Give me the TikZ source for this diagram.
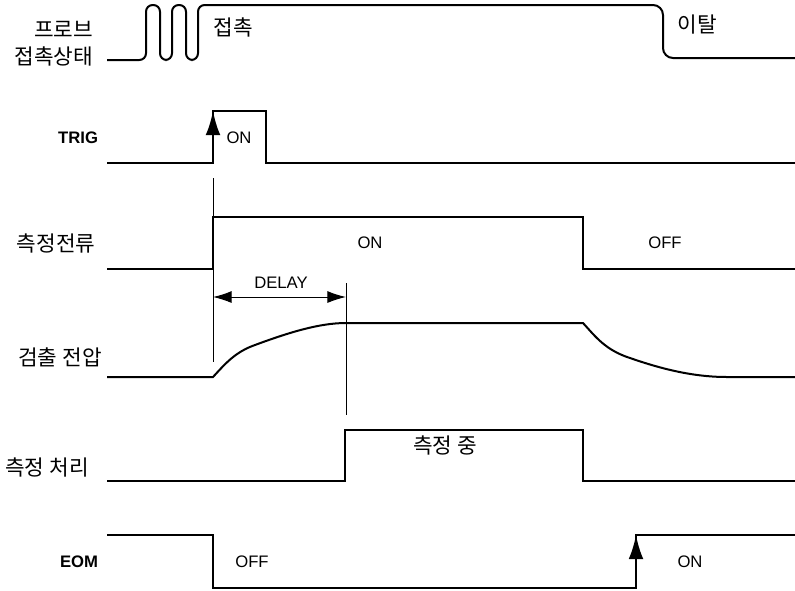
\documentclass[tikz,border=0pt]{standalone}
\usepackage{fontspec}
\setmainfont{Liberation Sans}
\newfontfamily\kr{Noto Sans CJK KR}
\usetikzlibrary{arrows.meta}
\definecolor{ink}{gray}{0.0}
\definecolor{thin}{gray}{0.55}

\begin{document}
\begin{tikzpicture}[x=0.75pt, y=-0.75pt, line width=1.5pt, font=\fontsize{12.5}{14}\selectfont,
    sig/.style={ink},
    guideline/.style={thin, line width=0.75pt},
    krlabel/.style={inner sep=0pt, font=\kr\fontsize{16}{19}\selectfont},
    txt/.style={inner sep=0pt},
    uparrow/.style={ink, -{Latex[length=18pt, width=11pt]}}]
  \useasboundingbox (0,0) rectangle (795,590);

  % signal names on the left
  \node[krlabel, anchor=east] (probe1) at (94,29) {프로브};
  \node[krlabel, anchor=east] (probe2) at (94,56) {접촉상태};
  \node[txt, anchor=east, font=\fontsize{12.5}{14}\selectfont\bfseries] (trig) at (99,138) {TRIG};
  \node[krlabel] (curr) at (56,243) {측정전류};
  \node[krlabel] (volt) at (60,357) {검출 전압};
  \node[krlabel] (proc) at (47,467) {측정 처리};
  \node[txt, anchor=east, font=\fontsize{12.5}{14}\selectfont\bfseries] (eom) at (99,562) {EOM};

  % probe contact
  \draw[sig, rounded corners=5pt] (107,60) -- (146,60) -- (146,5) -- (160,5) -- (160,60)
    -- (172,60) -- (172,5) -- (186,5) -- (186,60) -- (198,60) -- (198,5)
    [rounded corners=7.5pt] -- (663,5) -- (663,58) -- (795,58);
  \node[krlabel] (touch) at (233,27) {접촉};
  \node[krlabel] (leave) at (697,25) {이탈};

  % TRIG
  \draw[sig] (107,163) -- (213,163) -- (213,111) -- (266,111) -- (266,163) -- (795,163);
  \coordinate (t0) at (213,163);
  \coordinate (t1) at (213,111);
  \draw[uparrow] (t0) -- (t1);
  \node[txt] (trigon) at (239,138) {ON};

  % measuring current
  \draw[sig] (107,269) -- (213,269) -- (213,217) -- (583,217) -- (583,269) -- (795,269);
  \node[txt] (curron) at (370,243) {ON};
  \node[txt] (curroff) at (665,243) {OFF};

  % delay
  \coordinate (g0) at (213,178);
  \coordinate (g1) at (213,362);
  \coordinate (g2) at (346,283);
  \coordinate (g3) at (346,415);
  \draw[guideline] (g0) -- (g1);
  \draw[guideline] (g2) -- (g3);
  \coordinate (d0) at (213,297);
  \coordinate (d1) at (346,297);
  \draw[guideline, {Latex[length=14pt, width=9pt, color=ink]}-{Latex[length=14pt, width=9pt, color=ink]}] (d0) -- (d1);
  \node[txt] (delay) at (281,283) {DELAY};

  % detected voltage
  \draw[sig] (107,377) -- (213,377) .. controls (225,364) and (235,352) .. (255,345)
    .. controls (290,332) and (320,323) .. (346,323) -- (583,323)
    .. controls (595,336) and (605,350) .. (630,358)
    .. controls (670,372) and (700,377) .. (727,377) -- (795,377);

  % processing
  \draw[sig] (107,481) -- (345,481) -- (345,430) -- (583,430) -- (583,481) -- (795,481);
  \node[krlabel] (busy) at (445,445) {측정 중};

  % EOM
  \draw[sig] (107,535) -- (213,535) -- (213,588) -- (636,588) -- (636,535) -- (795,535);
  \coordinate (e0) at (636,588);
  \coordinate (e1) at (636,535);
  \draw[uparrow] (e0) -- (e1);
  \node[txt] (eomoff) at (252,562) {OFF};
  \node[txt] (eomon) at (690,562) {ON};
\end{tikzpicture}
\end{document}
